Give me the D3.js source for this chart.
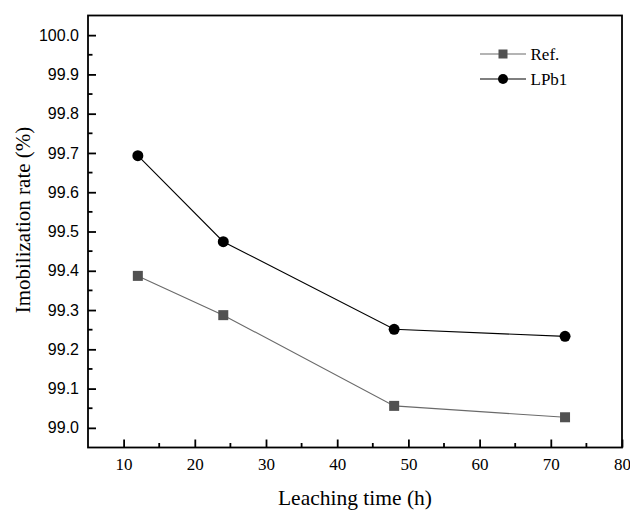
<!DOCTYPE html>
<html>
<head>
<meta charset="utf-8">
<script src="https://cdn.jsdelivr.net/npm/d3@7"></script>
<style>
  html, body { margin: 0; padding: 0; background: #fff; }
  svg { display: block; }
</style>
</head>
<body>
<svg id="chart" width="630" height="510"></svg>
<script>
// Leaching times (h) and immobilization rates (%) per sample
const leachingTime = [12, 24, 48, 72];
const refRate = [99.387, 99.287, 99.056, 99.027];
const lpb1Rate = [99.693, 99.474, 99.251, 99.233];
const seriesNames = ["Ref.", "LPb1"];
const xTicks = [10, 20, 30, 40, 50, 60, 70, 80];
const yTicks = [99.0, 99.1, 99.2, 99.3, 99.4, 99.5, 99.6, 99.7, 99.8, 99.9, 100.0];

const svg = d3.select("#chart");
const plotLeft = 88, plotRight = 622, plotTop = 15.5, plotBottom = 447.5;

const x = d3.scaleLinear().domain([5, 80]).range([plotLeft, plotRight]);
const y = d3.scaleLinear().domain([98.95, 100.05]).range([plotBottom, plotTop]);

const serif = "'Liberation Serif', 'Times New Roman', 'DejaVu Serif', serif";
const sans = "'Liberation Sans', Arial, 'DejaVu Sans', sans-serif";

// Minor ticks (inward, short)
const xMinor = d3.range(15, 80, 10);
const yMinor = d3.range(99.05, 100.0, 0.1);

svg.append("g").selectAll("line").data(xMinor).join("line")
  .attr("x1", d => x(d)).attr("x2", d => x(d))
  .attr("y1", plotBottom).attr("y2", plotBottom - 4.5)
  .attr("stroke", "#000").attr("stroke-width", 1.8);

svg.append("g").selectAll("line").data(yMinor).join("line")
  .attr("x1", plotLeft).attr("x2", plotLeft + 4.5)
  .attr("y1", d => y(d)).attr("y2", d => y(d))
  .attr("stroke", "#000").attr("stroke-width", 1.8);

// Major axes with inward ticks
const xAxis = svg.append("g")
  .attr("transform", `translate(0,${plotBottom})`)
  .call(d3.axisBottom(x).tickValues(xTicks).tickSize(-8).tickPadding(10.5).tickFormat(d3.format("d")));
xAxis.select(".domain").remove();
xAxis.selectAll(".tick line").attr("stroke-width", 1.8);
xAxis.selectAll(".tick text")
  .style("font-family", serif).style("font-size", "17px").attr("fill", "#000");

const yAxis = svg.append("g")
  .attr("transform", `translate(${plotLeft},0)`)
  .call(d3.axisLeft(y).tickValues(yTicks).tickSize(-8).tickPadding(9).tickFormat(d3.format(".1f")));
yAxis.select(".domain").remove();
yAxis.selectAll(".tick line").attr("stroke-width", 1.8);
yAxis.selectAll(".tick text")
  .style("font-family", sans).style("font-size", "16px").attr("fill", "#000");

// Frame
svg.append("rect")
  .attr("x", plotLeft).attr("y", plotTop)
  .attr("width", plotRight - plotLeft).attr("height", plotBottom - plotTop)
  .attr("fill", "none").attr("stroke", "#000").attr("stroke-width", 1.8);

// Series lines
const refData = leachingTime.map((t, i) => [t, refRate[i]]);
const lpbData = leachingTime.map((t, i) => [t, lpb1Rate[i]]);
const line = d3.line().x(d => x(d[0])).y(d => y(d[1]));

svg.append("path").datum(refData).attr("d", line)
  .attr("fill", "none").attr("stroke", "#6a6a6a").attr("stroke-width", 1.1);
svg.append("path").datum(lpbData).attr("d", line)
  .attr("fill", "none").attr("stroke", "#000").attr("stroke-width", 1.1);

// Markers
const sq = 10;
svg.append("g").selectAll("rect").data(refData).join("rect")
  .attr("x", d => x(d[0]) - sq / 2).attr("y", d => y(d[1]) - sq / 2)
  .attr("width", sq).attr("height", sq)
  .attr("fill", "#515151");
svg.append("g").selectAll("circle").data(lpbData).join("circle")
  .attr("cx", d => x(d[0])).attr("cy", d => y(d[1]))
  .attr("r", 5.5).attr("fill", "#000");

// Legend
const legend = svg.append("g");
const legRows = [
  { name: seriesNames[0], y: 54, color: "#6a6a6a", marker: "square" },
  { name: seriesNames[1], y: 79, color: "#000", marker: "circle" }
];
legRows.forEach(r => {
  legend.append("line")
    .attr("x1", 480).attr("x2", 526).attr("y1", r.y).attr("y2", r.y)
    .attr("stroke", r.color).attr("stroke-width", 1.1);
  if (r.marker === "square") {
    legend.append("rect").attr("x", 503 - 4.5).attr("y", r.y - 4.5)
      .attr("width", 9).attr("height", 9).attr("fill", "#515151");
  } else {
    legend.append("circle").attr("cx", 503).attr("cy", r.y).attr("r", 5).attr("fill", "#000");
  }
  legend.append("text")
    .attr("x", 530.5).attr("y", r.y + 6)
    .style("font-family", serif).style("font-size", "17px").attr("fill", "#000")
    .text(r.name);
});

// Axis titles
svg.append("text")
  .attr("x", (plotLeft + plotRight) / 2).attr("y", 505)
  .attr("text-anchor", "middle")
  .style("font-family", serif).style("font-size", "21.5px").attr("fill", "#000")
  .text("Leaching time (h)");

svg.append("text")
  .attr("transform", "translate(30,220) rotate(-90)")
  .attr("text-anchor", "middle")
  .style("font-family", serif).style("font-size", "21px").attr("fill", "#000")
  .text("Imobilization rate (%)");
</script>
</body>
</html>
